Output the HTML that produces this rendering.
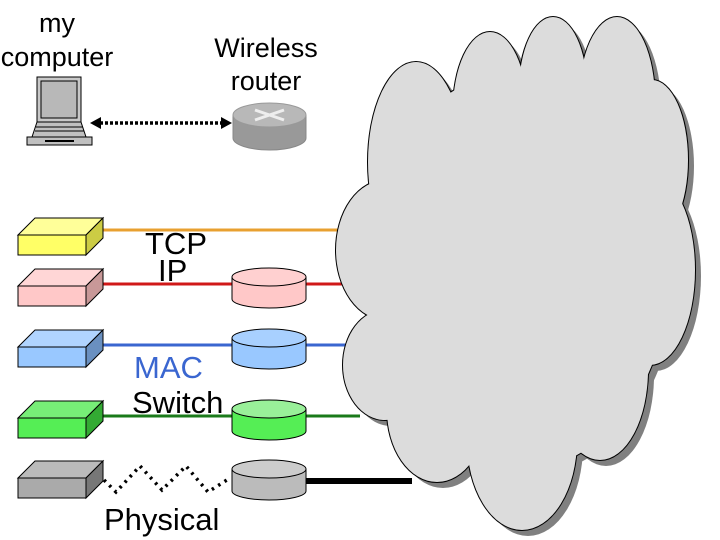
<!DOCTYPE html>
<html><head><meta charset="utf-8"><style>
html,body{margin:0;padding:0;background:#fff;width:720px;height:540px;overflow:hidden}
svg{display:block}
text{font-family:"Liberation Sans",sans-serif}
</style></head><body>
<svg width="720" height="540" viewBox="0 0 720 540" xmlns="http://www.w3.org/2000/svg">
<defs>
<g id="cl">
<ellipse cx="520" cy="270" rx="150" ry="200"/>
<ellipse cx="416" cy="162" rx="48" ry="100"/>
<ellipse cx="490" cy="110" rx="37" ry="78"/>
<ellipse cx="553" cy="90" rx="34" ry="73"/>
<ellipse cx="617" cy="100" rx="38" ry="83"/>
<ellipse cx="652" cy="160" rx="36" ry="80"/>
<ellipse cx="650" cy="270" rx="45" ry="95"/>
<ellipse cx="600" cy="370" rx="48" ry="90"/>
<ellipse cx="522" cy="440" rx="55" ry="90"/>
<ellipse cx="437" cy="410" rx="50" ry="72"/>
<ellipse cx="385" cy="365" rx="42" ry="55"/>
<ellipse cx="386" cy="250" rx="50" ry="70"/>
</g>
</defs>
<line x1="103" y1="230" x2="345" y2="230" stroke="#e8a030" stroke-width="3"/>
<line x1="103" y1="284" x2="345" y2="284" stroke="#d01818" stroke-width="3"/>
<line x1="103" y1="345" x2="350" y2="345" stroke="#3a66d0" stroke-width="3"/>
<line x1="103" y1="416" x2="360" y2="416" stroke="#1a7a1a" stroke-width="3"/>
<line x1="306" y1="481" x2="412" y2="481" stroke="#000" stroke-width="6"/>
<g fill="#808080" transform="translate(6,6)"><use href="#cl"/></g>
<g fill="#dcdcdc" stroke="#000" stroke-width="2"><use href="#cl"/></g>
<g fill="#dcdcdc"><use href="#cl"/></g>
<g stroke="#000" stroke-width="1">
<polygon points="18,235 35,218 103,218 86,235" fill="#ffff99"/><rect x="18" y="235" width="68" height="20" fill="#ffff66"/><polygon points="86,235 103,218 103,238 86,255" fill="#cccc44"/>
<polygon points="18,286 35,269 103,269 86,286" fill="#ffd6d6"/><rect x="18" y="286" width="68" height="20" fill="#ffc8c8"/><polygon points="86,286 103,269 103,289 86,306" fill="#c89898"/>
<polygon points="18,347 35,330 103,330 86,347" fill="#b0d4ff"/><rect x="18" y="347" width="68" height="20" fill="#99c8ff"/><polygon points="86,347 103,330 103,350 86,367" fill="#6a90c0"/>
<polygon points="18,418 35,401 103,401 86,418" fill="#77ee77"/><rect x="18" y="418" width="68" height="20" fill="#55ee55"/><polygon points="86,418 103,401 103,421 86,438" fill="#33aa33"/>
<polygon points="18,478 35,461 103,461 86,478" fill="#bbbbbb"/><rect x="18" y="478" width="68" height="20" fill="#aaaaaa"/><polygon points="86,478 103,461 103,481 86,498" fill="#777"/>
</g>
<g stroke="#000" stroke-width="1">
<path d="M232,277 v22 a37,9 0 0 0 74,0 v-22" fill="#ffc8c8"/><ellipse cx="269" cy="277" rx="37" ry="9" fill="#ffd0d0"/>
<path d="M232,338 v22 a37,9 0 0 0 74,0 v-22" fill="#99c8ff"/><ellipse cx="269" cy="338" rx="37" ry="9" fill="#a8d0ff"/>
<path d="M232,409 v22 a37,9 0 0 0 74,0 v-22" fill="#55ee55"/><ellipse cx="269" cy="409" rx="37" ry="9" fill="#99f099"/>
<path d="M232,469 v22 a37,9 0 0 0 74,0 v-22" fill="#bbbbbb"/><ellipse cx="269" cy="469" rx="37" ry="9" fill="#cccccc"/>
</g>
<polyline points="104,480 116,492 140,466 162,490 186,466 208,492 230,478" fill="none" stroke="#000" stroke-width="3.5" stroke-dasharray="2.5 5"/>
<g stroke="#000" stroke-width="1">
<rect x="37" y="77" width="44" height="45" fill="#c8c8c8"/>
<rect x="41" y="81" width="36" height="37" fill="#b8b8b8"/>
<polygon points="37,122 81,122 86,137 32,137" fill="#c0c0c0"/>
<rect x="27" y="137" width="65" height="8" fill="#c0c0c0"/>
<line x1="36" y1="127" x2="83" y2="127"/><line x1="35" y1="131" x2="84" y2="131"/><line x1="45" y1="141" x2="74" y2="141" stroke-width="2"/>
</g>
<line x1="100" y1="123" x2="222" y2="123" stroke="#000" stroke-width="3.5" stroke-dasharray="3 2"/>
<polygon points="90,123 101,117 101,129" fill="#000"/>
<polygon points="232,123 221,117 221,129" fill="#000"/>
<path d="M233,115 v23 a36.5,12 0 0 0 73,0 v-23" fill="#999" stroke="#888"/>
<ellipse cx="269.5" cy="115" rx="36.5" ry="12" fill="#b8b8b8" stroke="#999"/>
<g stroke="#eee" stroke-width="3"><line x1="255" y1="110" x2="284" y2="120"/><line x1="284" y1="110" x2="255" y2="120"/></g>
<g font-size="27" fill="#000" text-anchor="middle">
<text x="57" y="32">my</text><text x="57" y="66">computer</text>
<text x="266" y="57">Wireless</text><text x="266" y="90">router</text>
</g>
<g font-size="31" fill="#000">
<text x="145" y="254">TCP</text><text x="158" y="281">IP</text>
<text x="134" y="378" fill="#3a66d0">MAC</text><text x="132" y="413">Switch</text>
<text x="104" y="530">Physical</text>
</g>
</svg>
</body></html>
